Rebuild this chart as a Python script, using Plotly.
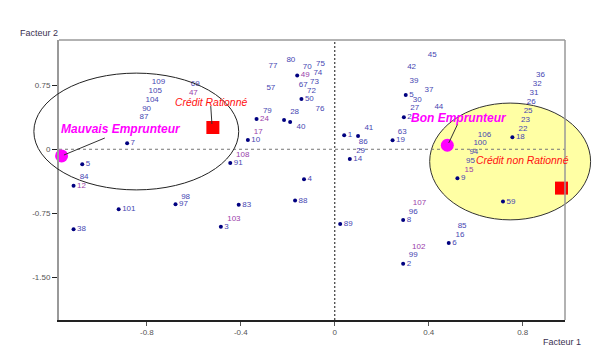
import plotly.graph_objects as go

# ---------------- data ----------------
# observations whose dot is visible (factor 1, factor 2, label)
dot_x = [-0.884, -1.075, -1.112, -0.920, -0.678, -1.112, -0.485, -0.409, -0.169, -0.131,
         0.023, -0.445, -0.370, -0.333, -0.216, -0.190, -0.142, -0.160, 0.040, 0.099,
         0.064, 0.246, 0.302, 0.294, 0.756, 0.522, 0.716, 0.291, 0.485, 0.291]
dot_y = [0.070, -0.175, -0.426, -0.702, -0.643, -0.936, -0.909, -0.651, -0.601, -0.351,
         -0.874, -0.160, 0.109, 0.354, 0.343, 0.319, 0.588, 0.865, 0.164, 0.156,
         -0.113, 0.105, 0.635, 0.374, 0.140, -0.339, -0.613, -0.830, -1.099, -1.342]
dot_labels = ["7", "5", "12", "101", "97", "38", "3", "83", "88", "4",
              "89", "91", "10", "24", "", "", "50", "49", "1", "",
              "14", "19", "5", "2", "18", "9", "59", "8", "6", "2"]

# observations whose label is displaced (dot hidden under neighbours)
lab_x = [-0.779, -0.793, -0.806, -0.820, -0.831, -0.613, -0.621, -1.086, -0.654, -0.458,
         -0.420, -0.345, -0.306, -0.282, -0.291, -0.206, -0.136, -0.080, -0.091, -0.153,
         -0.105, -0.118, -0.082, -0.190, -0.163, 0.126, 0.102, 0.091, 0.268, 0.396,
         0.308, 0.318, 0.382, 0.332, 0.321, 0.424, 0.857, 0.843, 0.829, 0.817,
         0.804, 0.793, 0.782, 0.609, 0.590, 0.573, 0.559, 0.552, 0.332, 0.315,
         0.523, 0.514, 0.329, 0.315]
lab_y = [0.784, 0.682, 0.577, 0.471, 0.374, 0.760, 0.655, -0.320, -0.554, -0.815,
         -0.067, 0.200, 0.448, 0.974, 0.713, 1.044, 0.959, 0.998, 0.892, 0.752,
         0.787, 0.682, 0.468, 0.440, 0.264, 0.246, 0.089, -0.020, 0.206, 1.103,
         0.959, 0.802, 0.694, 0.577, 0.480, 0.498, 0.869, 0.764, 0.662, 0.557,
         0.451, 0.343, 0.237, 0.171, 0.070, -0.028, -0.133, -0.242, -0.625, -0.730,
         -0.897, -1.002, -1.139, -1.244]
lab_text = ["109", "105", "104", "90", "87", "69", "47", "84", "98", "103",
            "108", "17", "79", "77", "57", "80", "70", "75", "74", "67",
            "73", "72", "76", "28", "40", "41", "86", "29", "63", "45",
            "42", "39", "37", "30", "27", "44", "36", "32", "31", "26",
            "25", "23", "22", "106", "100", "94", "95", "15", "107", "96",
            "85", "16", "102", "99"]

purple_labels = {"47", "17", "108", "103", "107", "102", "12", "15", "49", "24"}

# group centroids
group_names = ["Mauvais Emprunteur", "Bon Emprunteur"]
group_x = [-1.163, 0.479]
group_y = [-0.078, 0.047]
credit_names = ["Crédit Rationné", "Crédit non Rationné"]
credit_x = [-0.519, 0.965]
credit_y = [0.255, -0.455]

x_ticks = [-0.8, -0.4, 0, 0.4, 0.8]
x_ticktext = ["-0.8", "-0.4", "0", "0.4", "0.8"]
y_ticks = [0.75, 0, -0.75, -1.5]
y_ticktext = ["0.75", "0", "-0.75", "-1.50"]

XR = [-1.174, 0.980]
YR = [-2.0, 1.28]

FONT = "Arial, 'Liberation Sans', sans-serif"
BLUE = "#4646b2"
PURPLE = "#9a40aa"


def col(lbls):
    return [PURPLE if l in purple_labels else BLUE for l in lbls]


def px(x):
    return (x - XR[0]) / (XR[1] - XR[0])


def py(y):
    return (y - YR[0]) / (YR[1] - YR[0])


fig = go.Figure()

fig.add_trace(go.Scatter(
    x=dot_x, y=dot_y, text=dot_labels, mode="markers+text",
    marker=dict(color="#000080", size=4),
    textposition="middle right",
    textfont=dict(family=FONT, size=8, color=col(dot_labels)),
    cliponaxis=False, hoverinfo="skip", showlegend=False))

fig.add_trace(go.Scatter(
    x=lab_x, y=lab_y, text=lab_text, mode="text",
    textposition="middle right",
    textfont=dict(family=FONT, size=8, color=col(lab_text)),
    cliponaxis=False, hoverinfo="skip", showlegend=False))

fig.add_trace(go.Scatter(
    x=group_x, y=group_y, mode="markers",
    marker=dict(color="#ff00ff", size=13),
    cliponaxis=False, hoverinfo="skip", showlegend=False))

fig.add_trace(go.Scatter(
    x=credit_x, y=credit_y, mode="markers",
    marker=dict(color="#ff0000", size=13, symbol="square"),
    cliponaxis=False, hoverinfo="skip", showlegend=False))

shapes = []
# yellow ellipse (Crédit non Rationné zone)
shapes.append(dict(type="circle", xref="paper", yref="paper",
                   x0=px(0.404), x1=px(1.089), y0=py(-0.827), y1=py(0.541),
                   fillcolor="#ffffa4", line=dict(color="#333333", width=1), layer="below"))
# zero lines
shapes.append(dict(type="line", xref="paper", yref="y", x0=0, x1=1, y0=0, y1=0,
                   line=dict(color="#777777", width=1, dash="3px,3px"), layer="below"))
shapes.append(dict(type="line", xref="x", yref="paper", x0=0, x1=0, y0=0, y1=1,
                   line=dict(color="#111111", width=1, dash="2px,2px"), layer="below"))
# white ellipse (Mauvais Emprunteur zone)
shapes.append(dict(type="circle", xref="paper", yref="paper",
                   x0=px(-1.281), x1=px(-0.409), y0=py(-0.476), y1=py(0.892),
                   line=dict(color="#222222", width=1), layer="above"))
# frame top / right
shapes.append(dict(type="line", xref="paper", yref="paper", x0=0, x1=1, y0=1, y1=1,
                   line=dict(color="#666666", width=1)))
shapes.append(dict(type="line", xref="paper", yref="paper", x0=1, x1=1, y0=0, y1=1,
                   line=dict(color="#999999", width=1.5)))
# connectors
for (a, b, c, d) in [(-0.979, 0.132, -1.153, -0.067),
                     (0.523, 0.295, 0.485, 0.074),
                     (-0.528, 0.506, -0.523, 0.296)]:
    shapes.append(dict(type="line", xref="x", yref="y", x0=a, y0=b, x1=c, y1=d,
                       line=dict(color="#333333", width=1)))

annotations = [
    dict(x=-0.912, y=0.237, text="<b><i>Mauvais Emprunteur</i></b>", showarrow=False,
         font=dict(family=FONT, size=12, color="#ff00ff")),
    dict(x=0.528, y=0.366, text="<b><i>Bon Emprunteur</i></b>", showarrow=False,
         font=dict(family=FONT, size=12, color="#ff00ff")),
    dict(x=-0.528, y=0.550, text="<i>Crédit Rationné</i>", showarrow=False,
         font=dict(family=FONT, size=10.4, color="#ff1010")),
    dict(x=0.800, y=-0.137, text="<i>Crédit non Rationné</i>", showarrow=False,
         font=dict(family=FONT, size=10.4, color="#ff1010")),
    dict(xref="paper", yref="paper", x=(18 - 59) / 506, y=(320 - 32.5) / 280,
         xanchor="left", yanchor="middle", text="Facteur 2", showarrow=False,
         font=dict(family=FONT, size=9, color="#3a3050")),
    dict(xref="paper", yref="paper", x=(541 - 59) / 506, y=(320 - 342) / 280,
         xanchor="left", yanchor="middle", text="Facteur 1", showarrow=False,
         font=dict(family=FONT, size=9, color="#3a3050")),
]

fig.update_layout(
    width=597, height=353,
    margin=dict(l=59, r=32, t=40, b=33),
    paper_bgcolor="white", plot_bgcolor="rgba(0,0,0,0)",
    shapes=shapes, annotations=annotations,
    xaxis=dict(range=XR, tickvals=x_ticks, ticktext=x_ticktext, showgrid=False,
               zeroline=False, showline=True, linecolor="#222222", linewidth=1.5,
               ticks="outside", ticklen=4, tickcolor="#555555",
               tickfont=dict(family=FONT, size=8, color="#555555")),
    yaxis=dict(range=YR, tickvals=y_ticks, ticktext=y_ticktext, showgrid=False,
               zeroline=False, showline=True, linecolor="#999999", linewidth=2,
               ticks="outside", ticklen=5, tickcolor="#222222",
               tickfont=dict(family=FONT, size=8, color="#555555")),
)

fig.write_html("out.html")
